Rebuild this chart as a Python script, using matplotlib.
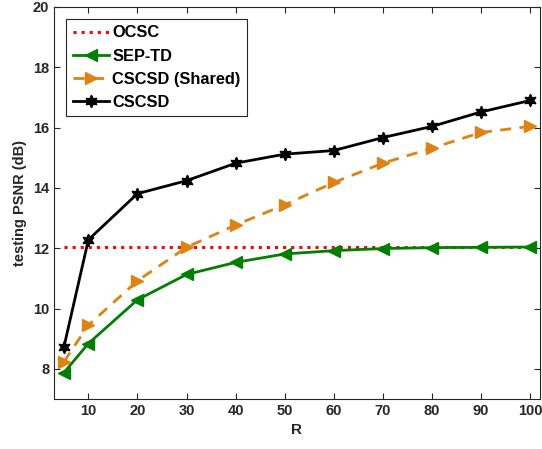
import matplotlib.pyplot as plt
import numpy as np

plt.rcParams["font.family"] = ["Liberation Sans", "DejaVu Sans"]
plt.rcParams["font.weight"] = "bold"

R = [5, 10, 20, 30, 40, 50, 60, 70, 80, 90, 100]
ocsc = [12.05] * len(R)
sep_td = [7.87, 8.84, 10.29, 11.13, 11.53, 11.81, 11.92, 11.99, 12.02, 12.03, 12.04]
cscsd_shared = [8.23, 9.45, 10.92, 12.03, 12.77, 13.44, 14.18, 14.82, 15.32, 15.84, 16.04]
cscsd = [8.71, 12.28, 13.81, 14.24, 14.82, 15.12, 15.24, 15.67, 16.04, 16.52, 16.90]

fig = plt.figure(figsize=(5.42, 4.49), dpi=100)
ax = fig.add_axes([54 / 542, 1 - 399 / 449, 486 / 542, 392 / 449])

ax.plot(R, ocsc, ":", color="red", linewidth=2.2, label="OCSC")
ax.plot(R, sep_td, "-", color=(0, 0.5, 0), linewidth=2, marker="<",
        markersize=8, label="SEP-TD")
ax.plot(R, cscsd_shared, "--", color="#E0820F", linewidth=2, marker=">",
        markersize=8, dashes=(4, 3), label="CSCSD (Shared)")
ax.plot(R, cscsd, "-", color="black", linewidth=2, marker=(6, 1, 0),
        markersize=9, label="CSCSD")

ax.set_xlim(3, 102)
ax.set_ylim(7, 20)
ax.set_xticks([10, 20, 30, 40, 50, 60, 70, 80, 90, 100])
ax.set_yticks(np.arange(8, 21, 2))
ax.tick_params(direction="in", top=True, right=True, labelsize=10.5,
               colors="#262626", length=4)
for s in ax.spines.values():
    s.set_color("#262626")
    s.set_linewidth(0.8)
ax.set_xlabel("R", fontsize=11, fontweight="bold", color="#262626")
ax.set_ylabel("testing PSNR (dB)", fontsize=10.5, fontweight="bold", color="#262626")

leg = ax.legend(loc="upper left", bbox_to_anchor=(0.025, 0.97), borderaxespad=0,
                handlelength=2.2, handletextpad=0.2,
                labelspacing=0.5, fancybox=False, framealpha=1,
                edgecolor="#262626", prop={"weight": "bold", "size": 11.8})
leg.get_frame().set_linewidth(0.8)

fig.savefig("out.png", dpi=100)
